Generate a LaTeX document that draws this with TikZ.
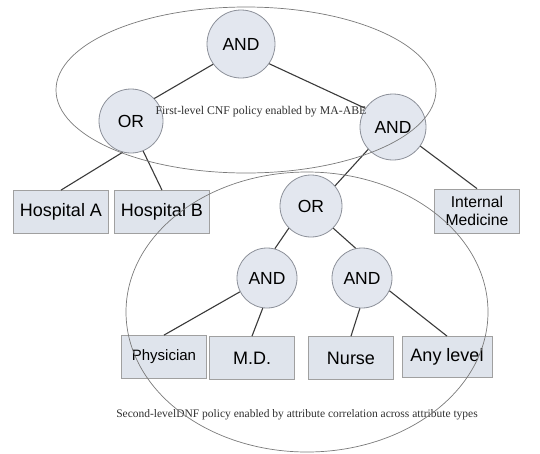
\documentclass[tikz,border=0pt]{standalone}
\usepackage{fontspec}
\setmainfont{Liberation Sans}
\newfontfamily\capfont{Liberation Serif}
\definecolor{gatefill}{HTML}{E3E7EF}
\definecolor{gateline}{HTML}{8C9099}
\definecolor{boxfill}{HTML}{DFE4EC}
\definecolor{boxline}{HTML}{A0A0A0}
\definecolor{edgecol}{HTML}{3A3A3A}
\definecolor{ellcol}{HTML}{7A7A7A}
\definecolor{captext}{HTML}{303030}
\begin{document}
\begin{tikzpicture}[x=1pt,y=-1pt,
  gate/.style={circle, draw=gateline, fill=gatefill, line width=0.8pt, minimum size=64pt, inner sep=0pt, font=\fontsize{17.5}{20}\selectfont},
  attr/.style={rectangle, draw=boxline, fill=boxfill, line width=0.8pt, minimum width=95pt, minimum height=43pt, inner sep=0pt, font=\fontsize{18}{21}\selectfont},
  edge/.style={draw=edgecol, line width=1.1pt},
  region/.style={draw=ellcol, line width=0.7pt},
  caption/.style={text=captext, inner sep=0pt, font=\capfont\fontsize{11.8}{14}\selectfont}
]
\useasboundingbox (0,0) rectangle (540,453);

% gates
\node[gate, minimum size=68pt] (and1) at (241,44) {AND};
\node[gate] (or1) at (131,121) {OR};
\node[gate, minimum size=66pt] (andr) at (393,127) {AND};
\node[gate, minimum size=62pt] (or2) at (311,206) {OR};
\node[gate, minimum size=60pt] (andl) at (267,278) {AND};
\node[gate, minimum size=60pt] (andrr) at (362,278) {AND};

% attributes
\node[attr] (hospA) at (61,212) {Hospital A};
\node[attr] (hospB) at (162,212) {Hospital B};
\node[attr, minimum width=85pt, minimum height=44pt, align=center, font=\fontsize{15.7}{18}\selectfont] (intmed) at (477,211) {Internal\\Medicine};
\node[attr, minimum width=85pt, font=\fontsize{15}{18}\selectfont] (phys) at (164,357) {Physician};
\node[attr, minimum width=85pt] (md) at (252,358) {M.D.};
\node[attr, minimum width=85pt] (nurse) at (351,358) {Nurse};
\node[attr, minimum width=90pt, minimum height=41pt] (any) at (447,357) {Any level};

% connectors
\draw[edge] (and1.216) -- (or1.44);
\draw[edge] (and1.-35) -- (andr.146);
\draw[edge] (or1.255) -- (hospA.north);
\draw[edge] (or1.292) -- (hospB.north);
\draw[edge] (andr.222) -- (or2.40);
\draw[edge] (andr.325) -- (intmed.north);
\draw[edge] (or2.225) -- (andl.75);
\draw[edge] (or2.315) -- (andrr.102);
\draw[edge] (andl.207) -- (phys.north);
\draw[edge] (andl.262) -- (md.north);
\draw[edge] (andrr.266) -- (nurse.north);
\draw[edge] (andrr.335) -- (any.north);

% captions
\node[caption] (cap1) at (261,112) {First-level CNF policy enabled by MA-ABE};
\node[caption, font=\capfont\fontsize{11.5}{14}\selectfont] (cap2) at (297,415) {Second-levelDNF policy enabled by attribute correlation across attribute types};

% policy regions
\draw[region] (246,90) ellipse [x radius=190pt, y radius=83pt];
\draw[region] (307,312) ellipse [x radius=181pt, y radius=140pt];
\end{tikzpicture}
\end{document}
